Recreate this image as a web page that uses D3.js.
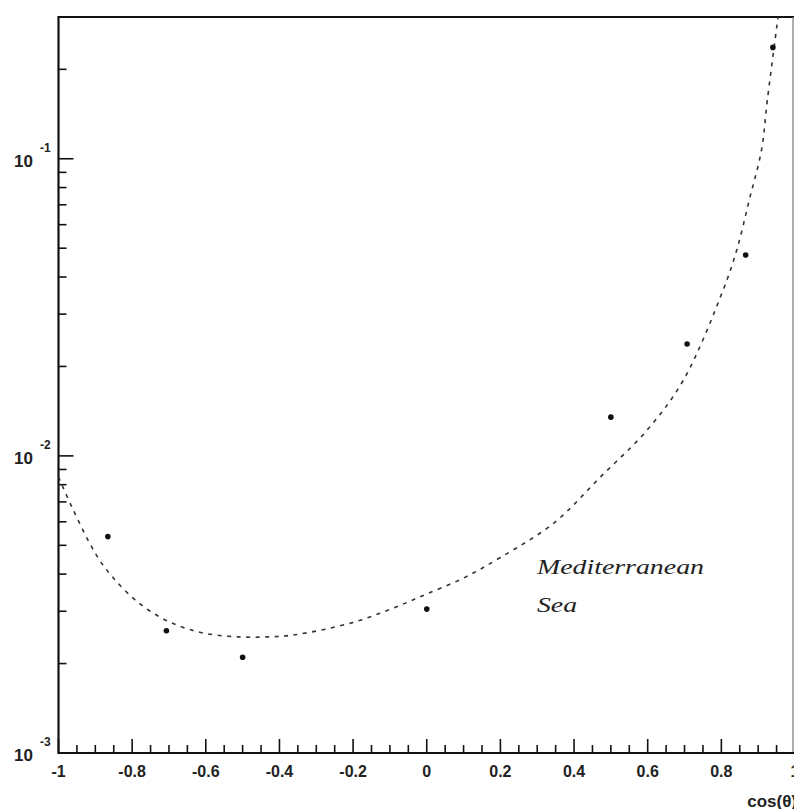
<!DOCTYPE html>
<html>
<head>
<meta charset="utf-8">
<script src="https://cdn.jsdelivr.net/npm/d3@7"></script>
<style>
  html, body { margin: 0; padding: 0; background: #fff; }
  svg { display: block; }
  .tick-label { font-family: "Liberation Sans", Arial, sans-serif; font-weight: bold; fill: #222; }
</style>
</head>
<body>
<svg id="chart"></svg>
<script>
// measured points (cos theta, flux)
var cosTheta = [-0.866, -0.707, -0.5, 0, 0.5, 0.707, 0.866, 0.94];
var flux = [5.35e-3, 2.58e-3, 2.10e-3, 3.05e-3, 1.35e-2, 2.38e-2, 4.74e-2, 0.237];

// fitted curve
var fitX = [-1, -0.963, -0.9, -0.854, -0.782, -0.701, -0.611, -0.512, -0.43, -0.358, -0.196, -0.07, 0, 0.1, 0.2, 0.345, 0.472, 0.598, 0.697, 0.805, 0.842, 0.876, 0.909, 0.925, 0.954];
var fitY = [8.5e-3, 6.7e-3, 4.7e-3, 3.92e-3, 3.2e-3, 2.77e-3, 2.54e-3, 2.46e-3, 2.46e-3, 2.5e-3, 2.76e-3, 3.15e-3, 3.43e-3, 3.88e-3, 4.55e-3, 5.94e-3, 8.5e-3, 1.22e-2, 1.8e-2, 3.62e-2, 4.94e-2, 7.28e-2, 0.107, 0.158, 0.30];

var xMajor = [-1, -0.8, -0.6, -0.4, -0.2, 0, 0.2, 0.4, 0.6, 0.8, 1];
var xLabels = ["-1", "-0.8", "-0.6", "-0.4", "-0.2", "0", "0.2", "0.4", "0.6", "0.8", "1"];
var yMajor = [1e-3, 1e-2, 1e-1];
var yExp = ["-3", "-2", "-1"];

var width = 794, height = 809;
var plotL = 58.5, plotR = 795, plotT = 17, plotB = 753;

var svg = d3.select("#chart").attr("width", width).attr("height", height);

var x = d3.scaleLinear().domain([-1, 1]).range([plotL, plotR]);
var y = d3.scaleLog().domain([1e-3, 0.3]).range([plotB, plotT]);

svg.append("defs").append("clipPath").attr("id", "clip")
  .append("rect").attr("x", plotL).attr("y", plotT).attr("width", 793 - plotL).attr("height", plotB - plotT);

// x ticks (minor every 0.05, inward)
var xMinor = d3.range(-20, 21).map(function(i) { return i * 0.05; });
svg.append("g").selectAll("line").data(xMinor).join("line")
  .attr("x1", function(d) { return x(d); })
  .attr("x2", function(d) { return x(d); })
  .attr("y1", plotB)
  .attr("y2", function(d, i) { return i % 4 === 0 ? plotB - 14 : plotB - 8; })
  .attr("stroke", "#111").attr("stroke-width", 1.6);

// y ticks (minor 2..9 per decade)
var yMinor = [];
[1e-3, 1e-2, 1e-1].forEach(function(dec) {
  for (var k = 2; k <= 9; k++) { if (k * dec <= 0.3 + 1e-9) yMinor.push(k * dec); }
});
svg.append("g").selectAll("line").data(yMinor).join("line")
  .attr("x1", plotL).attr("x2", plotL + 8)
  .attr("y1", function(d) { return y(d); }).attr("y2", function(d) { return y(d); })
  .attr("stroke", "#111").attr("stroke-width", 1.6);
svg.append("g").selectAll("line").data(yMajor).join("line")
  .attr("x1", plotL).attr("x2", plotL + 15)
  .attr("y1", function(d) { return y(d); }).attr("y2", function(d) { return y(d); })
  .attr("stroke", "#111").attr("stroke-width", 1.6);

// frame
svg.append("line").attr("x1", plotL).attr("x2", 795).attr("y1", plotT).attr("y2", plotT)
  .attr("stroke", "#111").attr("stroke-width", 2);
svg.append("line").attr("x1", 793).attr("x2", 793).attr("y1", plotT).attr("y2", plotB)
  .attr("stroke", "#777").attr("stroke-width", 1.2);
svg.append("line").attr("x1", plotL).attr("x2", plotL).attr("y1", plotT - 1).attr("y2", plotB + 1)
  .attr("stroke", "#111").attr("stroke-width", 2.2);
svg.append("line").attr("x1", plotL).attr("x2", 795).attr("y1", plotB).attr("y2", plotB)
  .attr("stroke", "#111").attr("stroke-width", 2.2);

// x labels
svg.append("g").selectAll("text").data(xMajor).join("text")
  .attr("class", "tick-label")
  .attr("x", function(d) { return x(d); })
  .attr("y", 777)
  .attr("text-anchor", "middle")
  .attr("font-size", 16)
  .text(function(d, i) { return xLabels[i]; });

// y labels 10^n
var yl = svg.append("g").selectAll("g").data(yMajor).join("g");
yl.append("text").attr("class", "tick-label")
  .attr("x", 33).attr("y", function(d) { return y(d) + 8; })
  .attr("text-anchor", "end").attr("font-size", 17).text("10");
yl.append("text").attr("class", "tick-label")
  .attr("x", 40).attr("y", function(d) { return y(d) - 7; })
  .attr("font-size", 12).text(function(d, i) { return yExp[i]; });

// axis title
svg.append("text").attr("class", "tick-label")
  .attr("x", 797).attr("y", 807).attr("text-anchor", "end")
  .attr("font-size", 17).text("cos(θ)");

// fit curve
var line = d3.line()
  .x(function(d) { return x(d[0]); })
  .y(function(d) { return y(d[1]); })
  .curve(d3.curveCatmullRom);
svg.append("path")
  .attr("clip-path", "url(#clip)")
  .attr("d", line(d3.zip(fitX, fitY)))
  .attr("fill", "none")
  .attr("stroke", "#333")
  .attr("stroke-width", 1.6)
  .attr("stroke-dasharray", "4,5.5");

// points
svg.append("g").selectAll("circle").data(d3.zip(cosTheta, flux)).join("circle")
  .attr("cx", function(d) { return x(d[0]); })
  .attr("cy", function(d) { return y(d[1]); })
  .attr("r", 2.8)
  .attr("fill", "#111");

// label
var lab = svg.append("text")
  .attr("font-family", "'Liberation Serif', 'DejaVu Serif', serif")
  .attr("font-style", "italic")
  .attr("font-size", 21)
  .attr("fill", "#222");
lab.append("tspan").attr("x", 537).attr("y", 574).attr("textLength", 167).attr("lengthAdjust", "spacingAndGlyphs").text("Mediterranean");
lab.append("tspan").attr("x", 537).attr("y", 612).attr("textLength", 40).attr("lengthAdjust", "spacingAndGlyphs").text("Sea");
</script>
</body>
</html>
